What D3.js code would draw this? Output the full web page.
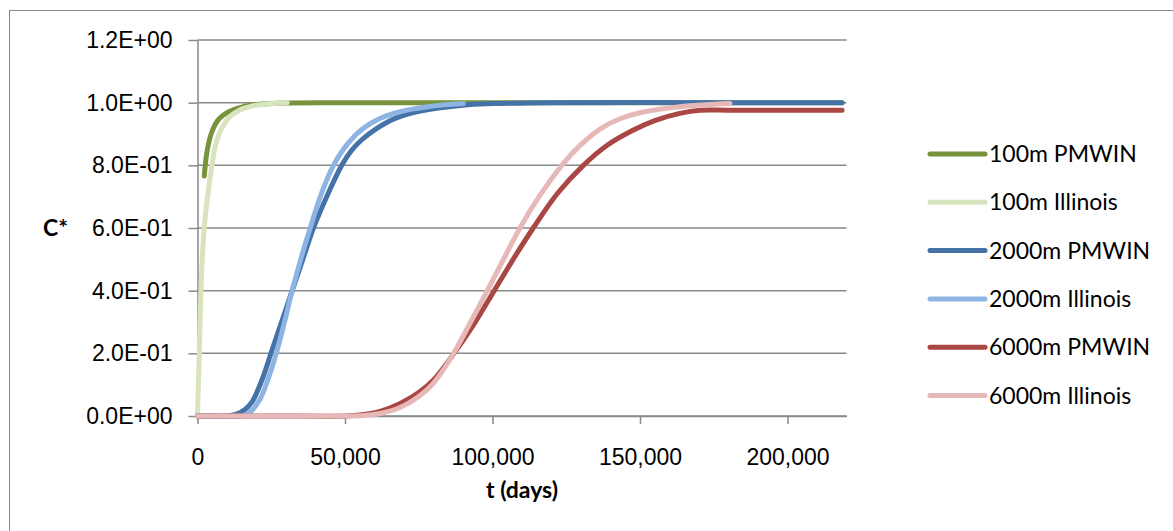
<!DOCTYPE html>
<html>
<head>
<meta charset="utf-8">
<script src="https://cdn.jsdelivr.net/npm/d3@7"></script>
<style>
  body { margin: 0; background: #fff; }
  svg { display: block; font-family: Lato, "Open Sans", sans-serif; }
  .tick text { fill: #000; }
</style>
</head>
<body>
<svg id="chart" width="1173" height="531"></svg>
<script>
// series values: t (days) and C*
var t100p = [2300, 3000, 4000, 5000, 7000, 10000, 15000, 20000, 30000, 50000, 100000, 150000, 218500];
var c100p = [0.766, 0.83, 0.88, 0.91, 0.945, 0.968, 0.986, 0.994, 0.999, 1.0, 1.0, 1.0, 1.0];

var t100i = [0, 300, 600, 1150, 1600, 2270, 3400, 4900, 6000, 7300, 9000, 10400, 14000, 19000, 25000, 30400];
var c100i = [0, 0.1, 0.2, 0.4, 0.5, 0.6, 0.7, 0.8, 0.86, 0.9, 0.93, 0.95, 0.975, 0.99, 0.997, 1.0];

var t2000p = [0, 5000, 10000, 13000, 16000, 18500, 21000, 23000, 24900, 28500, 32100, 35700, 39300, 43800, 48900, 52000, 55500, 60800, 67000, 74300, 90000, 100000, 120000, 170000, 218500];
var c2000p = [0, 0, 0, 0.005, 0.02, 0.045, 0.095, 0.145, 0.2, 0.3, 0.4, 0.5, 0.6, 0.7, 0.8, 0.845, 0.88, 0.918, 0.95, 0.971, 0.992, 0.997, 1.0, 1.0, 1.0];

var t2000i = [0, 8000, 15000, 17500, 21000, 24000, 26700, 29500, 32100, 35000, 38200, 42000, 46100, 51000, 56200, 62000, 68700, 78000, 90100];
var c2000i = [0, 0, 0, 0.01, 0.05, 0.12, 0.2, 0.3, 0.4, 0.5, 0.6, 0.71, 0.8, 0.87, 0.918, 0.95, 0.971, 0.987, 0.997];

var t6000p = [0, 25000, 50000, 55000, 61900, 68700, 75000, 80000, 86200, 93500, 100900, 107000, 113800, 122000, 130800, 139000, 147600, 155000, 163500, 170300, 180000, 200000, 218500];
var c6000p = [0, 0, 0, 0.003, 0.015, 0.04, 0.075, 0.115, 0.19, 0.29, 0.405, 0.5, 0.6, 0.71, 0.8, 0.865, 0.912, 0.943, 0.966, 0.976, 0.976, 0.976, 0.976];

var t6000i = [0, 25000, 50000, 55000, 61900, 68700, 75000, 80000, 86200, 92600, 98800, 104000, 109300, 115800, 123500, 129500, 136300, 143000, 150000, 163500, 180500];
var c6000i = [0, 0, 0, 0.001, 0.008, 0.027, 0.062, 0.105, 0.19, 0.3, 0.41, 0.505, 0.6, 0.7, 0.8, 0.862, 0.915, 0.948, 0.968, 0.987, 0.997];

var names = ["100m PMWIN", "100m Illinois", "2000m PMWIN", "2000m Illinois", "6000m PMWIN", "6000m Illinois"];
var colors = ["#77933C", "#D7E4BD", "#4572A7", "#8EB4E3", "#AA4643", "#E6B9B8"];
var xTicks = [0, 50000, 100000, 150000, 200000];
var yTicks = [0, 0.2, 0.4, 0.6, 0.8, 1.0, 1.2];

var series = [
    [t100p, c100p], [t100i, c100i], [t2000p, c2000p],
    [t2000i, c2000i], [t6000p, c6000p], [t6000i, c6000i]
].map(function(s, k) {
    return {name: names[k], color: colors[k], values: s[0].map(function(t, i) { return [t, s[1][i]]; })};
});

var svg = d3.select("#chart"),
    grey = "#898989",
    margins = {"left": 197.5, "right": 326.5, "top": 40, "bottom": 115},
    width = 1173, height = 531;

var x = d3.scaleLinear().domain([0, 220000]).range([margins.left, width - margins.right]),
    y = d3.scaleLinear().domain([0, 1.2]).range([height - margins.bottom, margins.top]);

function sci(v) {
    if (Math.abs(v) < 1e-9) return "0.0E+00";
    var e = Math.floor(Math.log10(v) + 1e-9),
        m = v / Math.pow(10, e);
    return m.toFixed(1) + "E" + (e < 0 ? "-" : "+") + String(Math.abs(e)).padStart(2, "0");
}

// chart frame
svg.append("rect").attr("x", 9.5).attr("y", 10.5).attr("width", 1200).attr("height", 600)
    .attr("fill", "none").attr("stroke", grey).attr("stroke-width", 1);

// gridlines
svg.append("g").selectAll("line").data(yTicks).enter().append("line")
    .attr("x1", x(0)).attr("x2", x(220000))
    .attr("y1", d => y(d)).attr("y2", d => y(d))
    .attr("stroke", grey).attr("stroke-width", 1.5);

var yAxis = svg.append("g").attr("transform", "translate(" + x(0) + ",0)")
    .call(d3.axisLeft(y).tickValues(yTicks).tickFormat(sci).tickSize(9).tickSizeOuter(0).tickPadding(16));
var xAxis = svg.append("g").attr("transform", "translate(0," + y(0) + ")")
    .call(d3.axisBottom(x).tickValues(xTicks).tickFormat(d3.format(",")).tickSize(8).tickSizeOuter(0).tickPadding(25));

[yAxis, xAxis].forEach(function(a) {
    a.select(".domain").attr("stroke", grey).attr("stroke-width", 1.5);
    a.selectAll(".tick line").attr("stroke", grey).attr("stroke-width", 1.5);
    a.selectAll(".tick text").style("font-size", "23px");
});

svg.append("text").attr("x", 68).attr("y", y(0.6)).attr("dy", "0.35em")
    .attr("text-anchor", "end").style("font-size", "23px").style("font-weight", "bold").text("C*");
svg.append("text").attr("x", 522).attr("y", 490).attr("dy", "0.35em")
    .attr("text-anchor", "middle").style("font-size", "23px").style("font-weight", "bold").text("t (days)");

var line = d3.line().x(d => x(d[0])).y(d => y(d[1])).curve(d3.curveCatmullRom.alpha(0.5));

svg.append("g").selectAll("path").data(series).enter().append("path")
    .attr("d", d => line(d.values))
    .attr("fill", "none").attr("stroke", d => d.color).attr("stroke-width", 5)
    .attr("stroke-linecap", "round").attr("stroke-linejoin", "round");

// legend
var legend = svg.append("g").selectAll("g").data(series).enter().append("g")
    .attr("transform", (d, i) => "translate(930," + (154 + i * 48.3) + ")");
legend.append("line").attr("x1", 0).attr("x2", 55)
    .attr("stroke", d => d.color).attr("stroke-width", 5).attr("stroke-linecap", "round");
legend.append("text").attr("x", 59).attr("dy", "0.35em").style("font-size", "23px").text(d => d.name);
</script>
</body>
</html>
